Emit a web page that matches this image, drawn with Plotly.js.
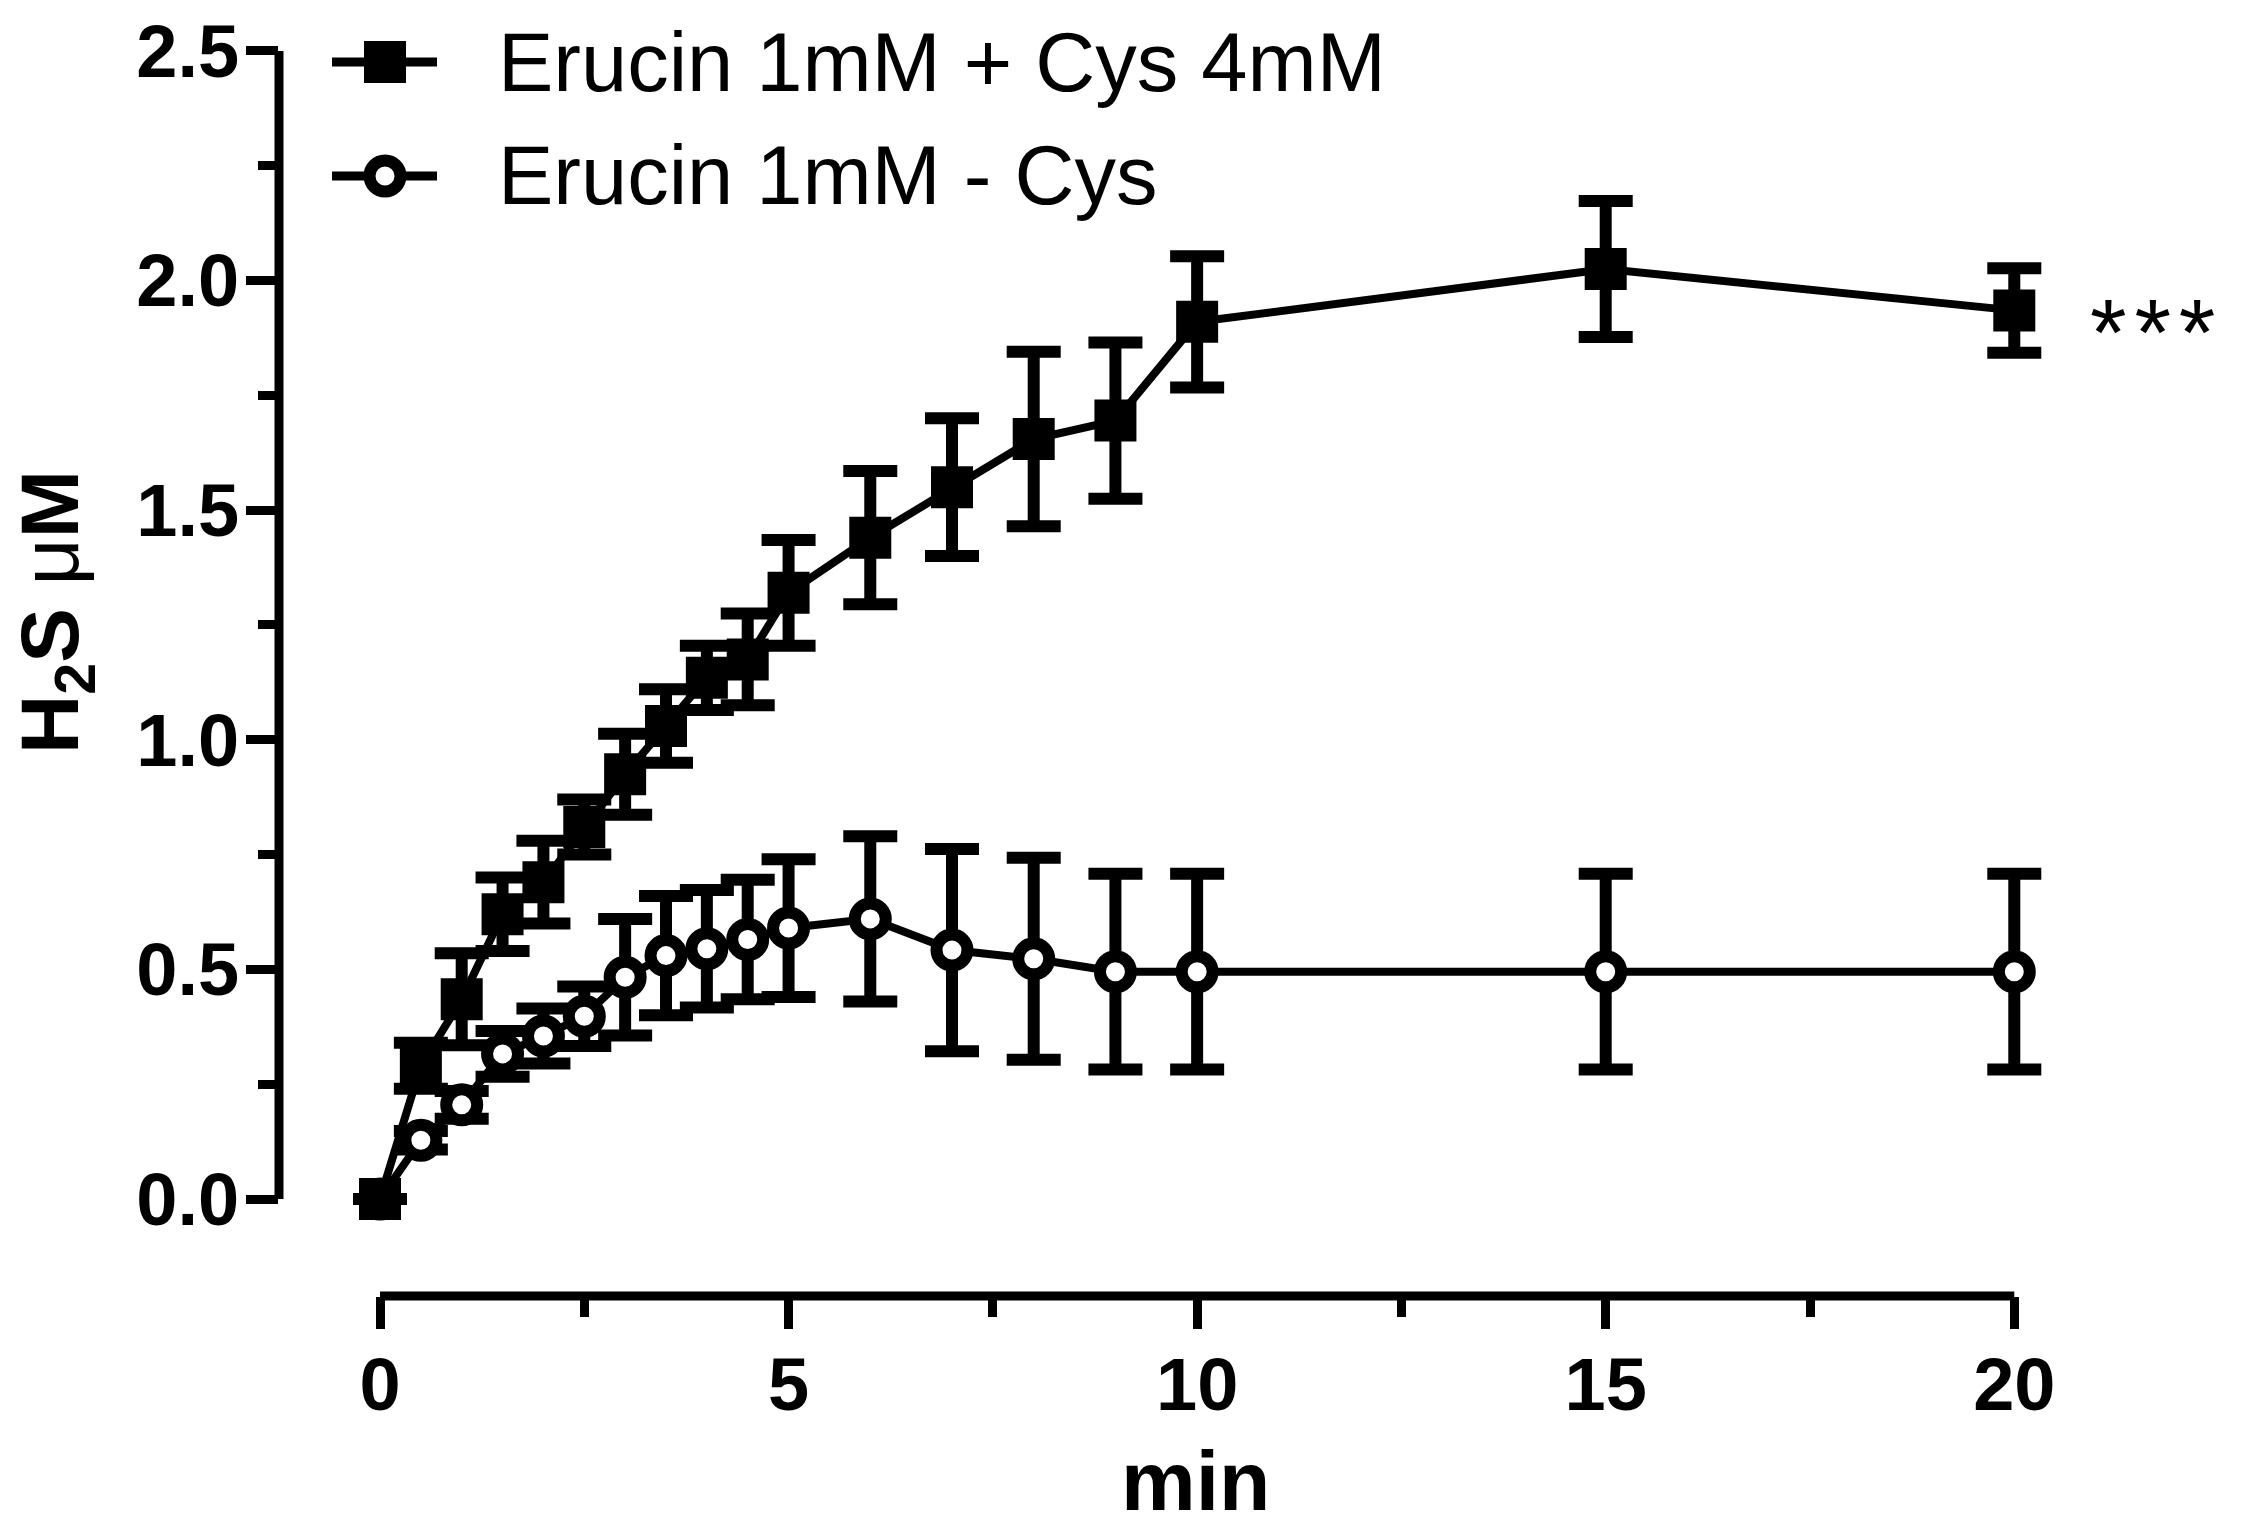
<!DOCTYPE html>
<html>
<head>
<meta charset="utf-8">
<script src="https://cdn.plot.ly/plotly-3.0.1.min.js"></script>
<style>
  html, body { margin: 0; padding: 0; background: #ffffff; }
  #chart { width: 2241px; height: 1535px; }
</style>
</head>
<body>
<div id="chart"></div>
<script>
// ---------------- data ----------------
const timeMin = [0, 0.5, 1, 1.5, 2, 2.5, 3, 3.5, 4, 4.5, 5, 6, 7, 8, 9, 10, 15, 20];

const withCys    = [0, 0.29, 0.435, 0.62, 0.69, 0.81, 0.925, 1.03, 1.135, 1.175, 1.32, 1.44, 1.55, 1.655, 1.695, 1.91, 2.025, 1.935];
const withCysSem = [0, 0.05, 0.10, 0.08, 0.09, 0.06, 0.088, 0.08, 0.07, 0.10, 0.115, 0.145, 0.15, 0.19, 0.17, 0.143, 0.148, 0.092];

const withoutCys    = [0, 0.128, 0.205, 0.316, 0.355, 0.398, 0.483, 0.53, 0.545, 0.565, 0.59, 0.61, 0.542, 0.523, 0.495, 0.495, 0.495, 0.495];
const withoutCysSem = [0, 0.02, 0.03, 0.05, 0.06, 0.065, 0.127, 0.13, 0.128, 0.13, 0.15, 0.18, 0.22, 0.22, 0.213, 0.213, 0.213, 0.213];

const seriesNames = ['Erucin 1mM + Cys 4mM', 'Erucin 1mM - Cys'];

const xTicks = [0, 5, 10, 15, 20];
const xTickText = ['0', '5', '10', '15', '20'];
const xMinorTicks = [2.5, 7.5, 12.5, 17.5];
const yTicks = [0, 0.5, 1, 1.5, 2, 2.5];
const yTickText = ['0.0', '0.5', '1.0', '1.5', '2.0', '2.5'];
const yMinorTicks = [0.25, 0.75, 1.25, 1.75, 2.25];

const xTitle = 'min';
const yTitle = '<b>H<sub>2</sub>S </b>μ<b>M</b>';
const significance = '*\u200A*\u200A*';

// ---------------- styling / layout ----------------
const FONT = 'Liberation Sans, Arial, Helvetica, sans-serif';
const BLACK = '#000000';

const W = 2241, H = 1535;
const M = { l: 279, r: 145, t: 5, b: 239 };
const PW = W - M.l - M.r, PH = H - M.t - M.b;
const pxX = px => (px - M.l) / PW;        // pixel -> paper x
const pxY = py => (H - M.b - py) / PH;    // pixel -> paper y

const traceWithout = {
  type: 'scatter', mode: 'lines+markers',
  name: seriesNames[1],
  x: timeMin, y: withoutCys,
  line: { color: BLACK, width: 8 },
  marker: { symbol: 'circle', size: 31, color: '#ffffff', line: { color: BLACK, width: 12 } },
  error_y: { type: 'data', array: withoutCysSem, visible: true, color: BLACK, thickness: 12, width: 27 },
  cliponaxis: false, showlegend: false, hoverinfo: 'skip'
};

const traceWith = {
  type: 'scatter', mode: 'lines+markers',
  name: seriesNames[0],
  x: timeMin, y: withCys,
  line: { color: BLACK, width: 8 },
  marker: { symbol: 'square', size: 42, color: BLACK, line: { width: 0 } },
  error_y: { type: 'data', array: withCysSem, visible: true, color: BLACK, thickness: 12, width: 27 },
  cliponaxis: false, showlegend: false, hoverinfo: 'skip'
};

const tickFont = { family: FONT, size: 74, color: BLACK, weight: 'bold' };

// legend rows (drawn manually, Prism style)
const legendRowsPx = [62, 176];
const legLineX0 = pxX(332), legLineX1 = pxX(437), legMarkX = pxX(385), legTextX = pxX(496);

const shapes = [
  // detached Prism-style axis lines spanning only the tick range
  { type: 'line', xref: 'paper', yref: 'y', x0: 0, x1: 0,
    y0: yTicks[0], y1: yTicks[yTicks.length - 1], line: { color: BLACK, width: 9 } },
  { type: 'line', xref: 'x', yref: 'paper', y0: 0, y1: 0,
    x0: xTicks[0], x1: xTicks[xTicks.length - 1], line: { color: BLACK, width: 9 } }
];
legendRowsPx.forEach((py, i) => {
  const yy = pxY(py);
  shapes.push({ type: 'line', xref: 'paper', yref: 'paper', x0: legLineX0, x1: legLineX1, y0: yy, y1: yy,
                line: { color: BLACK, width: 9 } });
  if (i === 0) {
    shapes.push({ type: 'rect', xref: 'paper', yref: 'paper', xsizemode: 'pixel', ysizemode: 'pixel',
                  xanchor: legMarkX, yanchor: yy, x0: -21, x1: 21, y0: -21, y1: 21,
                  fillcolor: BLACK, line: { width: 0 } });
  } else {
    shapes.push({ type: 'circle', xref: 'paper', yref: 'paper', xsizemode: 'pixel', ysizemode: 'pixel',
                  xanchor: legMarkX, yanchor: yy, x0: -15.5, x1: 15.5, y0: -15.5, y1: 15.5,
                  fillcolor: '#ffffff', line: { color: BLACK, width: 12 } });
  }
});

const annotations = [];
legendRowsPx.forEach((py, i) => {
  annotations.push({ xref: 'paper', yref: 'paper', x: legTextX, y: pxY(py), xanchor: 'left', yanchor: 'middle',
                     text: seriesNames[i], showarrow: false,
                     font: { family: FONT, size: 83, color: BLACK } });
});
annotations.push({ xref: 'paper', yref: 'paper', x: pxX(56), y: pxY(612), xanchor: 'center', yanchor: 'middle',
                   text: yTitle, textangle: -90, showarrow: false,
                   font: { family: FONT, size: 82, color: BLACK } });
annotations.push({ xref: 'paper', yref: 'paper', x: pxX(1195), y: pxY(1481), xanchor: 'center', yanchor: 'middle',
                   text: xTitle, showarrow: false,
                   font: { family: FONT, size: 84, color: BLACK, weight: 'bold' } });
annotations.push({ xref: 'x', yref: 'y', x: timeMin[timeMin.length - 1], y: withCys[withCys.length - 1],
                   xanchor: 'left', yanchor: 'middle', xshift: 74, yshift: -22,
                   text: significance, showarrow: false,
                   font: { family: FONT, size: 94, color: BLACK } });

const layout = {
  width: W, height: H,
  margin: { l: M.l, r: M.r, t: M.t, b: M.b, pad: 0 },
  paper_bgcolor: '#ffffff', plot_bgcolor: '#ffffff',
  showlegend: false,
  xaxis: {
    range: [-1.236, 21],
    tickmode: 'array', tickvals: xTicks, ticktext: xTickText,
    ticks: 'outside', ticklen: 32, tickwidth: 9, tickcolor: BLACK,
    ticklabelstandoff: -8,
    showline: false, showgrid: false, zeroline: false,
    tickfont: tickFont,
    minor: { tickmode: 'array', tickvals: xMinorTicks, ticks: 'outside', ticklen: 20, tickwidth: 9, tickcolor: BLACK, showgrid: false },
    fixedrange: true
  },
  yaxis: {
    range: [-0.2112, 2.6],
    tickmode: 'array', tickvals: yTicks, ticktext: yTickText,
    ticks: 'outside', ticklen: 32, tickwidth: 9, tickcolor: BLACK,
    ticklabelstandoff: -8,
    showline: false, showgrid: false, zeroline: false,
    tickfont: tickFont,
    minor: { tickmode: 'array', tickvals: yMinorTicks, ticks: 'outside', ticklen: 20, tickwidth: 9, tickcolor: BLACK, showgrid: false },
    fixedrange: true
  },
  shapes: shapes,
  annotations: annotations
};

Plotly.newPlot('chart', [traceWithout, traceWith], layout, { displayModeBar: false, staticPlot: true });
</script>
</body>
</html>
